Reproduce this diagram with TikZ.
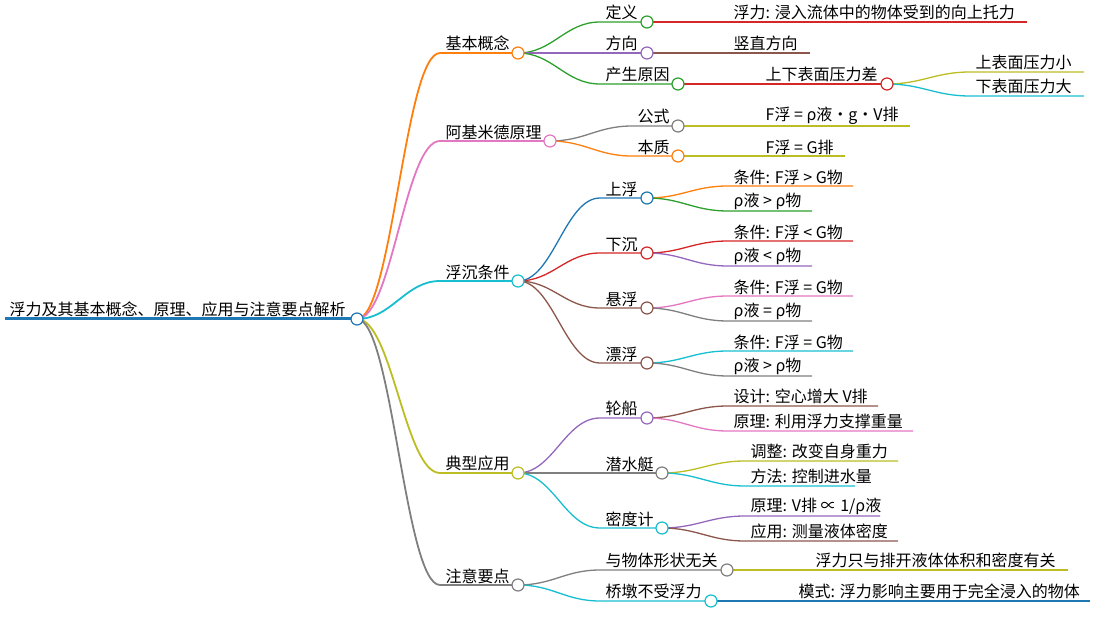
\documentclass[tikz,border=0pt]{standalone}
\usepackage{fontspec}
\setmainfont{Noto Sans CJK SC}
\definecolor{cblue}{HTML}{1F77B4}\definecolor{corange}{HTML}{FF7F0E}
\definecolor{cgreen}{HTML}{2CA02C}\definecolor{cred}{HTML}{D62728}
\definecolor{cpurple}{HTML}{9467BD}\definecolor{cbrown}{HTML}{8C564B}
\definecolor{cpink}{HTML}{E377C2}\definecolor{cgray}{HTML}{7F7F7F}
\definecolor{colive}{HTML}{BCBD22}\definecolor{ccyan}{HTML}{17BECF}
\tikzset{lbl/.style={anchor=south west,inner sep=1.5pt,font=\fontsize{16}{18}\selectfont},
 dot/.style={circle,draw=#1,fill=white,line width=1.2pt,minimum size=12pt,inner sep=0pt}}
% name, parent, xs, xe, y, color, text, width
\newcommand\br[8]{%
 \coordinate (#1s) at (#3,-#5); \coordinate (#1) at (#4,-#5);
 \draw[#6,line width=#8] (#2) .. controls +(35,0) and +(-35,0) .. (#1s) -- (#1);
 \node[lbl,xshift=4pt] (#1t) at (#1s) {#7};}
\newcommand\dt[2]{\node[dot=#2] at (#1) {};}
\begin{document}
\begin{tikzpicture}[x=1pt,y=1pt]
\useasboundingbox (0,0) rectangle (1095,-628);
\coordinate (r) at (357,-319);
\draw[cblue,line width=3pt] (5,-319) -- (r);
\node[lbl] (rt) at (8,-319) {浮力及其基本概念、原理、应用与注意要点解析};
% level 1
\br{a}{r}{440}{518}{53}{corange}{基本概念}{1.8pt}
\br{b}{r}{440}{550}{141}{cpink}{阿基米德原理}{1.8pt}
\br{c}{r}{440}{518}{281}{ccyan}{浮沉条件}{1.8pt}
\br{d}{r}{440}{518}{473}{colive}{典型应用}{1.8pt}
\br{e}{r}{440}{518}{585}{cgray}{注意要点}{1.8pt}
% 基本概念
\br{a1}{a}{600}{647}{22}{cgreen}{定义}{1.3pt}
\br{a2}{a}{600}{647}{53}{cpurple}{方向}{1.3pt}
\br{a3}{a}{600}{678}{84}{cgreen}{产生原因}{1.3pt}
\br{a1l}{a1}{728}{1027}{22}{cred}{浮力: 浸入流体中的物体受到的向上托力}{1.3pt}
\br{a2l}{a2}{728}{810}{53}{cbrown}{竖直方向}{1.3pt}
\br{a3l}{a3}{760}{887}{84}{cred}{上下表面压力差}{1.3pt}
\br{a3a}{a3l}{970}{1084}{72}{colive}{上表面压力小}{1.3pt}
\br{a3b}{a3l}{970}{1084}{96}{ccyan}{下表面压力大}{1.3pt}
% 阿基米德
\br{b1}{b}{632}{678}{126}{cgray}{公式}{1.3pt}
\br{b2}{b}{632}{678}{156}{corange}{本质}{1.3pt}
\br{b1l}{b1}{760}{910}{126}{colive}{F浮 = ρ液・g・V排}{1.3pt}
\br{b2l}{b2}{760}{845}{156}{colive}{F浮 = G排}{1.3pt}
% 浮沉
\br{c1}{c}{600}{647}{198}{cblue}{上浮}{1.3pt}
\br{c2}{c}{600}{647}{253}{cred}{下沉}{1.3pt}
\br{c3}{c}{600}{647}{308}{cbrown}{悬浮}{1.3pt}
\br{c4}{c}{600}{647}{363}{cbrown}{漂浮}{1.3pt}
\br{c1a}{c1}{728}{853}{186}{corange}{条件: F浮 > G物}{1.3pt}
\br{c1b}{c1}{728}{812}{211}{cgreen}{ρ液 > ρ物}{1.3pt}
\br{c2a}{c2}{728}{853}{241}{cred}{条件: F浮 < G物}{1.3pt}
\br{c2b}{c2}{728}{812}{266}{cpurple}{ρ液 < ρ物}{1.3pt}
\br{c3a}{c3}{728}{853}{296}{cpink}{条件: F浮 = G物}{1.3pt}
\br{c3b}{c3}{728}{812}{321}{cgray}{ρ液 = ρ物}{1.3pt}
\br{c4a}{c4}{728}{853}{351}{ccyan}{条件: F浮 = G物}{1.3pt}
\br{c4b}{c4}{728}{812}{376}{cgray}{ρ液 > ρ物}{1.3pt}
% 典型应用
\br{d1}{d}{600}{647}{418}{cpurple}{轮船}{1.3pt}
\br{d2}{d}{600}{662}{473}{cgray}{潜水艇}{1.3pt}
\br{d3}{d}{600}{662}{528}{ccyan}{密度计}{1.3pt}
\br{d1a}{d1}{728}{878}{406}{cbrown}{设计: 空心增大 V排}{1.3pt}
\br{d1b}{d1}{728}{913}{431}{cpink}{原理: 利用浮力支撑重量}{1.3pt}
\br{d2a}{d2}{745}{898}{461}{colive}{调整: 改变自身重力}{1.3pt}
\br{d2b}{d2}{745}{855}{486}{ccyan}{方法: 控制进水量}{1.3pt}
\br{d3a}{d3}{745}{880}{516}{cpurple}{原理: V排 ∝ 1/ρ液}{1.3pt}
\br{d3b}{d3}{745}{898}{541}{cbrown}{应用: 测量液体密度}{1.3pt}
% 注意要点
\br{e1}{e}{600}{727}{570}{cgray}{与物体形状无关}{1.3pt}
\br{e2}{e}{600}{711}{601}{ccyan}{桥墩不受浮力}{1.3pt}
\br{e1l}{e1}{810}{1068}{570}{colive}{浮力只与排开液体体积和密度有关}{1.3pt}
\br{e2l}{e2}{793}{1090}{601}{cblue}{模式: 浮力影响主要用于完全浸入的物体}{1.3pt}
% dots
\dt{r}{cblue}
\dt{a}{corange}\dt{b}{cpink}\dt{c}{ccyan}\dt{d}{colive}\dt{e}{cgray}
\dt{a1}{cgreen}\dt{a2}{cpurple}\dt{a3}{cgreen}\dt{a3l}{cred}
\dt{b1}{cgray}\dt{b2}{corange}
\dt{c1}{cblue}\dt{c2}{cred}\dt{c3}{cbrown}\dt{c4}{cbrown}
\dt{d1}{cpurple}\dt{d2}{cgray}\dt{d3}{ccyan}
\dt{e1}{cgray}\dt{e2}{ccyan}
\end{tikzpicture}
\end{document}
